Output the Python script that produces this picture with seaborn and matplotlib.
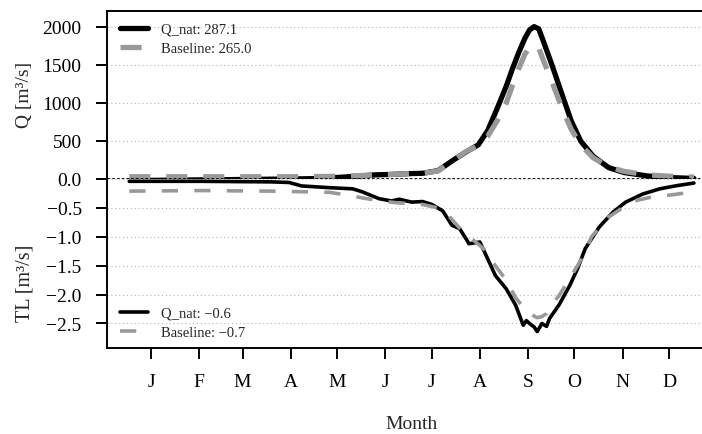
import matplotlib
matplotlib.use("Agg")
import matplotlib.pyplot as plt
import seaborn as sns
import pandas as pd

# ---------------- data ----------------
q_days = [1, 15, 30, 45, 60, 75, 90, 105, 120, 135, 150, 160, 170, 180, 190, 200, 210, 218, 226,
          232, 238, 244, 248, 252, 256, 259, 262, 265, 268, 274, 280, 286, 292, 300, 310, 320,
          335, 350, 365]
q_nat = [-20, -18, -15, -12, -10, -6, -3, 0, 5, 20, 40, 55, 60, 70, 75, 110, 250, 355, 450,
         635, 920, 1220, 1450, 1660, 1850, 1960, 2005, 1975, 1810, 1470, 1110, 760, 500, 300, 150, 85,
         40, 18, 8]
q_base = [30, 30, 30, 30, 30, 30, 30, 30, 32, 35, 45, 55, 60, 70, 75, 105, 250, 360, 440,
          560, 760, 1000, 1230, 1450, 1640, 1730, 1760, 1720, 1560, 1250, 930, 650, 450, 280, 160, 100,
          55, 35, 25]

tl_days_nat = [1, 47, 93, 104, 112, 130, 145, 151, 162, 170, 175, 183, 190, 196, 203, 209, 214,
               218, 220, 227, 231, 237, 244, 250, 255, 257, 259, 262, 264, 267, 270, 272, 278, 285,
               290, 295, 304, 313, 321, 332, 343, 354, 365]
tl_nat = [-0.04, -0.04, -0.05, -0.06, -0.12, -0.15, -0.17, -0.22, -0.34, -0.38, -0.35, -0.40,
          -0.39, -0.44, -0.55, -0.80, -0.86, -1.03, -1.12, -1.09, -1.32, -1.67, -1.90, -2.18, -2.53,
          -2.45, -2.50, -2.56, -2.64, -2.50, -2.55, -2.41, -2.18, -1.84, -1.55, -1.20, -0.83, -0.57,
          -0.40, -0.26, -0.17, -0.115, -0.07]
tl_days_base = [1, 47, 93, 112, 130, 137, 152, 163, 173, 190, 203, 214, 220, 227, 231, 237, 244,
                250, 255, 259, 264, 267, 270, 274, 278, 285, 290, 295, 299, 310, 325, 338, 349, 363]
tl_base = [-0.21, -0.20, -0.21, -0.22, -0.23, -0.26, -0.33, -0.38, -0.41, -0.44, -0.52, -0.85,
           -1.0, -1.15, -1.25, -1.5, -1.75, -2.05, -2.22, -2.33, -2.40, -2.38, -2.33, -2.15, -2.02,
           -1.72, -1.5, -1.25, -1.0, -0.66, -0.39, -0.31, -0.28, -0.23]

month_ticks = [15, 46, 74, 105, 135, 166, 196, 227, 258, 288, 319, 349]
month_labels = ["J", "F", "M", "A", "M", "J", "J", "A", "S", "O", "N", "D"]
q_yticks = [500, 1000, 1500, 2000]
q_yticklabels = ["500", "1000", "1500", "2000"]
tl_yticks = [0.0, -0.5, -1.0, -1.5, -2.0, -2.5]
tl_yticklabels = ["0.0", "\u22120.5", "\u22121.0", "\u22121.5", "\u22122.0", "\u22122.5"]

leg_q = ["Q_nat: 287.1", "Baseline: 265.0"]
leg_tl = ["Q_nat: \u22120.6", "Baseline: \u22120.7"]

# ---------------- style ----------------
sns.set_style("ticks")
plt.rcParams["font.family"] = ["Liberation Serif", "DejaVu Serif"]
plt.rcParams["axes.unicode_minus"] = True

GRAY = "#999999"
fig = plt.figure(figsize=(7.02, 4.35), dpi=100)
L = 106.7 / 702
W = 609.8 / 702
ax1 = fig.add_axes([L, (435 - 180) / 435, W, 168 / 435])
ax2 = fig.add_axes([L, (435 - 349) / 435, W, 169 / 435])

df_qn = pd.DataFrame({"day": q_days, "v": q_nat})
df_qb = pd.DataFrame({"day": q_days, "v": q_base})
df_tn = pd.DataFrame({"day": tl_days_nat, "v": tl_nat})
df_tb = pd.DataFrame({"day": tl_days_base, "v": tl_base})

sns.lineplot(data=df_qn, x="day", y="v", ax=ax1, color="black", lw=3.8,
             label=leg_q[0], clip_on=False, zorder=3)
sns.lineplot(data=df_qb, x="day", y="v", ax=ax1, color=GRAY, lw=3.8,
             linestyle=(0, (4, 3)), label=leg_q[1], clip_on=False, zorder=4)
sns.lineplot(data=df_tn, x="day", y="v", ax=ax2, color="black", lw=2.6,
             label=leg_tl[0], zorder=3)
sns.lineplot(data=df_tb, x="day", y="v", ax=ax2, color=GRAY, lw=2.6,
             linestyle=(0, (4.5, 4.5)), label=leg_tl[1], zorder=4)

xlim = (-13.56, 379.56)
for ax in (ax1, ax2):
    ax.set_xlim(*xlim)
    ax.set_xlabel("")
    ax.set_ylabel("")
    ax.grid(axis="y", linestyle=(0, (1, 2.5)), color="#b5b5b5", lw=0.8)
    ax.grid(axis="x", visible=False)
    for s in ax.spines.values():
        s.set_linewidth(1.4)
        s.set_color("black")
    ax.tick_params(axis="y", direction="out", length=8, width=1.4, pad=10, labelsize=14,
                   colors="black")

ax1.set_ylim(0, 2210.5)
ax2.set_ylim(-2.924, 0)
ax1.spines["bottom"].set_visible(False)
ax2.spines["top"].set_visible(False)
ax1.set_xticks([])
ax1.set_yticks(q_yticks)
ax1.set_yticklabels(q_yticklabels)
ax2.set_yticks(tl_yticks)
ax2.set_yticklabels(tl_yticklabels)
ax2.set_xticks(month_ticks)
ax2.set_xticklabels(month_labels)
ax2.tick_params(axis="x", direction="out", length=8, width=1.4, pad=10, labelsize=14,
                colors="black")

ax1.axhline(0, color="black", linestyle=(0, (1, 0.7)), lw=2.0, clip_on=False, zorder=6)

leg1 = ax1.legend(loc="upper left", bbox_to_anchor=(0.0218, 0.93), frameon=False,
                  fontsize=10.5, handlelength=1.9, handletextpad=0.9, labelspacing=0.4,
                  borderpad=0, borderaxespad=0)
leg2 = ax2.legend(loc="lower left", bbox_to_anchor=(0.0218, 0.055), frameon=False,
                  fontsize=10.5, handlelength=1.9, handletextpad=0.9, labelspacing=0.4,
                  borderpad=0, borderaxespad=0)

fig.text(25 / 702, 1 - 95 / 435, "Q [m\u00b3/s]", rotation=90, ha="center", va="center",
         fontsize=14)
fig.text(25 / 702, 1 - 283 / 435, "TL [m\u00b3/s]", rotation=90, ha="center", va="center",
         fontsize=14.5)
fig.text(411.6 / 702, 1 - 425 / 435, "Month", ha="center", va="center", fontsize=14)

fig.savefig("out.png", dpi=100)
